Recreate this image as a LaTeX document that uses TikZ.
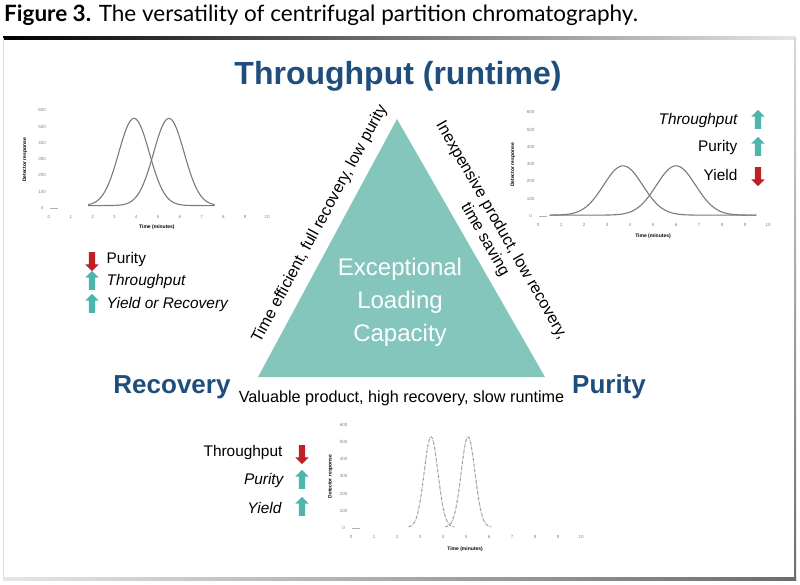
\documentclass[tikz,border=0pt]{standalone}
\usepackage{fontspec}
\setmainfont{Liberation Sans}
\newfontfamily\titlefont{Lato}
\usetikzlibrary{shapes.arrows,positioning}

\definecolor{cpcblue}{HTML}{1F4E7C}
\definecolor{cpcteal}{HTML}{84C6BC}
\definecolor{arrowteal}{HTML}{4DB6AC}
\definecolor{arrowred}{HTML}{BE2026}
\definecolor{curvegray}{HTML}{7A7A7A}

\tikzset{
  corner/.style={font=\bfseries\fontsize{26}{30}\selectfont, text=cpcblue},
  edgelabel/.style={font=\fontsize{16.2}{19}\selectfont},
  listtext/.style={font=\fontsize{15.4}{18}\selectfont, inner sep=1pt},
  uparrow/.style={single arrow, fill=arrowteal, draw=none, shape border rotate=90,
    minimum height=19pt, minimum width=13pt, inner sep=3pt, single arrow head extend=3.5pt},
  downarrow/.style={uparrow, fill=arrowred, shape border rotate=270},
  ticklabel/.style={font=\fontsize{4.5}{5}\selectfont, text=gray, inner sep=0pt},
  axistitle/.style={font=\bfseries\fontsize{5}{6}\selectfont, inner sep=0pt},
  peak/.style={curvegray, line width=1.1pt},
  narrowpeak/.style={curvegray!70, line width=1.1pt, dash pattern=on 3pt off 1pt on 0.6pt off 1pt}
}

\begin{document}
\begin{tikzpicture}[x=1pt, y=-1pt]
\useasboundingbox (0,0) rectangle (800,585);

% Caption
\node[anchor=west, font=\titlefont\fontsize{22.5}{25}\selectfont, inner sep=0pt] (caption) at (4,15)
  {\textbf{Figure 3.} The versatility of centrifugal partition chromatography.};

% Frame
\shade[left color=black, right color=gray!20] (3,37) rectangle (795,39.5);
\shade[left color=gray!20, right color=gray!85!black] (3,577.5) rectangle (796,580);
\fill[gray!25] (3,38) rectangle (4.2,580);
\shade[top color=gray!30, bottom color=gray!85!black] (794,38) rectangle (796,580);

% Triangle
\coordinate (apex) at (397,119);
\coordinate (bl) at (258,377);
\coordinate (br) at (545,377);
\fill[cpcteal] (apex) -- (bl) -- (br) -- cycle;
\node[text=white, align=center, font=\fontsize{24}{33}\selectfont] (centre) at (400,302)
  {Exceptional\\Loading\\Capacity};

% Corner labels
\node[corner, font=\bfseries\fontsize{32}{35}\selectfont] (thru) at (398,76) {Throughput (runtime)};
\node[corner] (reco) at (172,387) {Recovery};
\node[corner] (puri) at (609,387) {Purity};

% Edge labels
\path (bl) -- (apex) node[edgelabel, pos=0.56, sloped, above=7pt] (leftlab)
  {Time efficient, full recovery, low purity};
\node[edgelabel, align=center, rotate=-60.2] (rightlab) at (493,235)
  {Inexpensive product, low recovery,\\time saving};
\path (bl) -- (br) node[edgelabel, midway, below=10pt] (bottomlab)
  {Valuable product, high recovery, slow runtime};

% Chart: top left
\begin{scope}[shift={(49,208)}, x=21.8pt, y=0.163pt]
  \foreach \t in {0,...,10} \node[ticklabel] at (\t,-55) {\t};
  \foreach \v in {0,100,...,600} \node[ticklabel] at (-0.32,\v) {\v};
  \draw[gray!60, line width=0.4pt] (0.05,0) -- (0.4,0);
  \node[axistitle] at (4.95,-117) {Time (minutes)};
  \node[axistitle, rotate=90] at (-1.1,295) {Detector response};
  \draw[peak] plot[domain=1.8:7.6, samples=90, smooth] (\x, {15+535*exp(-((\x-3.9)^2)/0.98)});
  \draw[peak] plot[domain=1.8:7.6, samples=90, smooth] (\x, {15+535*exp(-((\x-5.5)^2)/0.98)});
\end{scope}

% Chart: top right
\begin{scope}[shift={(538,216)}, x=23pt, y=0.173pt]
  \foreach \t in {0,...,10} \node[ticklabel] at (\t,-52) {\t};
  \foreach \v in {0,100,...,600} \node[ticklabel] at (-0.32,\v) {\v};
  \draw[gray!60, line width=0.4pt] (0.05,0) -- (0.4,0);
  \node[axistitle] at (5.0,-116) {Time (minutes)};
  \node[axistitle, rotate=90] at (-1.09,295) {Detector response};
  \draw[peak] plot[domain=0.5:9.5, samples=120, smooth] (\x, {5+285*exp(-((\x-3.7)^2)/1.45)});
  \draw[peak] plot[domain=0.5:9.5, samples=120, smooth] (\x, {5+285*exp(-((\x-6.0)^2)/1.45)});
\end{scope}

% Chart: bottom
\begin{scope}[shift={(351,528)}, x=23pt, y=0.172pt]
  \foreach \t in {0,...,10} \node[ticklabel] at (\t,-52) {\t};
  \foreach \v in {0,100,...,600} \node[ticklabel] at (-0.32,\v) {\v};
  \draw[gray!60, line width=0.4pt] (0.05,0) -- (0.4,0);
  \node[axistitle] at (4.96,-122) {Time (minutes)};
  \node[axistitle, rotate=90] at (-0.9,300) {Detector response};
  \draw[narrowpeak] plot[domain=2.5:4.5, samples=80, smooth] (\x, {5+525*exp(-((\x-3.48)^2)/0.18)});
  \draw[narrowpeak] plot[domain=4.1:6.1, samples=80, smooth] (\x, {5+525*exp(-((\x-5.09)^2)/0.18)});
\end{scope}

% List: left
\node[downarrow] (lpur) at (92,260) {};
\node[uparrow] (lthr) at (92,282) {};
\node[uparrow] (lyie) at (92,305) {};
\node[listtext, right=10pt of lpur] {Purity};
\node[listtext, right=10pt of lthr] {\itshape Throughput};
\node[listtext, right=10pt of lyie] {\itshape Yield or Recovery};

% List: top right
\node[uparrow] (rthr) at (758,121) {};
\node[uparrow] (rpur) at (758,148) {};
\node[downarrow] (ryie) at (758,175) {};
\node[listtext, left=16pt of rthr] {\itshape Throughput};
\node[listtext, left=16pt of rpur] {Purity};
\node[listtext, left=16pt of ryie] {Yield};

% List: bottom
\node[downarrow] (bthr) at (302,453) {};
\node[uparrow] (bpur) at (302,481) {};
\node[uparrow] (byie) at (302,508) {};
\node[listtext, left=15pt of bthr] {Throughput};
\node[listtext, left=14pt of bpur] {\itshape Purity};
\node[listtext, left=16pt of byie] {\itshape Yield};
\end{tikzpicture}
\end{document}
